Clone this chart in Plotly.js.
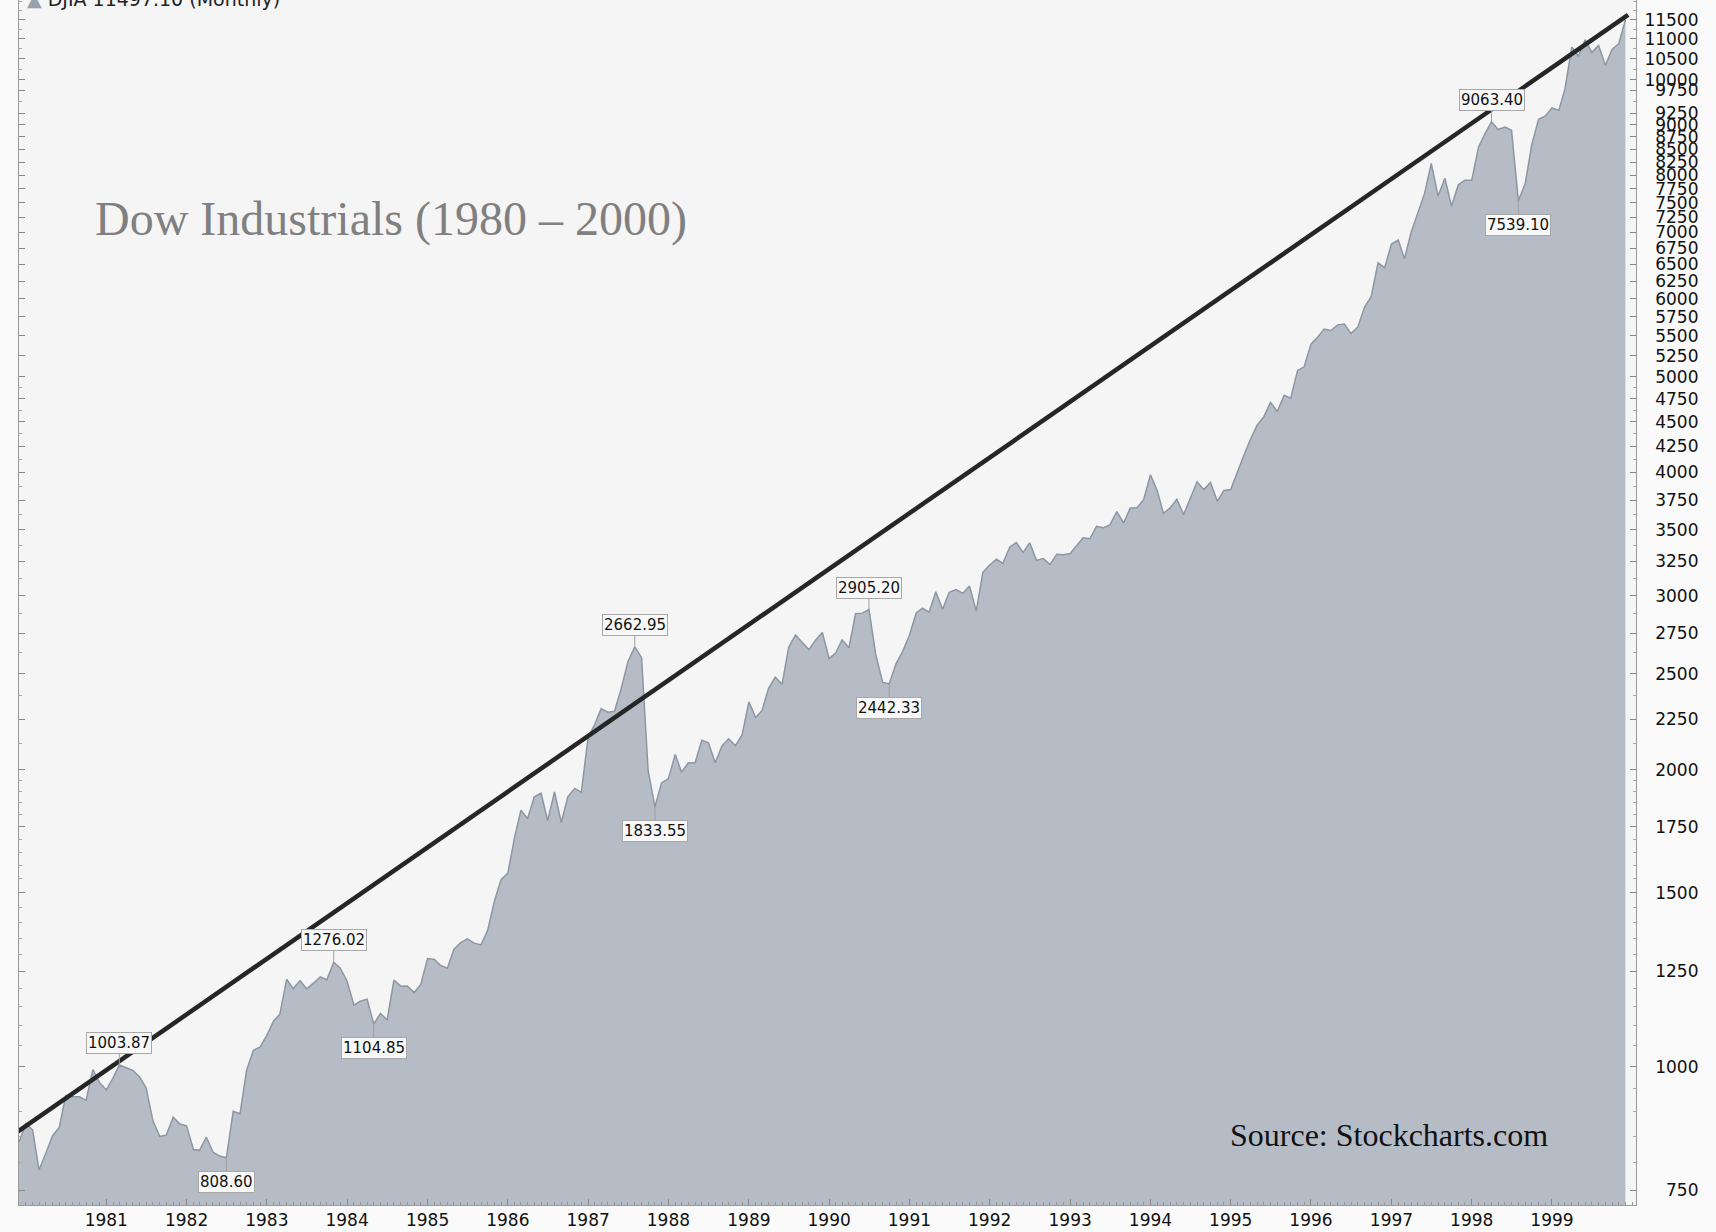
<!DOCTYPE html>
<html>
<head>
<meta charset="utf-8">
<script src="https://cdn.plot.ly/plotly-3.0.1.min.js"></script>
<style>
  html, body { margin: 0; padding: 0; background: #fafafa; }
  #chart { width: 1716px; height: 1232px; }
</style>
</head>
<body>
<div id="chart"></div>
<script>
// ---- Data (DJIA monthly closes, Dec 1979 - Dec 1999) ----
const startYear = 1979, startMonth = 12;
const dowClose = [
  838.74,
  875.85, 863.14, 785.75, 817.06, 850.85, 867.92, 935.32, 932.59, 932.42, 924.49, 993.34, 963.99,
  947.27, 974.58, 1003.87, 997.75, 991.75, 976.88, 952.34, 881.47, 849.98, 852.55, 888.98, 875.00,
  871.10, 824.39, 822.77, 848.36, 819.54, 811.93, 808.60, 901.31, 896.25, 991.72, 1039.28, 1046.54,
  1075.70, 1112.62, 1130.03, 1226.20, 1199.98, 1221.96, 1199.22, 1215.16, 1233.13, 1225.20, 1276.02, 1258.64,
  1220.58, 1154.63, 1164.89, 1170.75, 1104.85, 1132.40, 1115.28, 1224.38, 1206.71, 1207.38, 1188.94, 1211.57,
  1286.77, 1284.01, 1266.78, 1258.06, 1315.41, 1335.46, 1347.45, 1334.01, 1328.63, 1374.31, 1472.13, 1546.67,
  1570.99, 1709.06, 1818.61, 1783.98, 1876.71, 1892.72, 1775.31, 1898.34, 1767.58, 1877.81, 1914.23, 1895.95,
  2158.04, 2223.99, 2304.69, 2286.36, 2291.57, 2418.53, 2572.07, 2662.95, 2596.28, 1993.53, 1833.55, 1938.83,
  1958.22, 2071.62, 1988.06, 2032.33, 2031.12, 2141.71, 2128.73, 2031.65, 2112.91, 2148.65, 2114.51, 2168.57,
  2342.32, 2258.39, 2293.62, 2418.80, 2480.15, 2440.06, 2660.66, 2737.27, 2692.82, 2645.08, 2706.27, 2753.20,
  2590.54, 2627.25, 2707.21, 2656.76, 2876.66, 2880.69, 2905.20, 2614.36, 2452.48, 2442.33, 2559.65, 2633.66,
  2736.39, 2882.18, 2913.86, 2887.87, 3027.50, 2906.75, 3024.82, 3043.60, 3016.77, 3069.10, 2894.68, 3168.83,
  3223.39, 3267.67, 3235.47, 3359.12, 3396.88, 3318.52, 3393.78, 3257.35, 3271.66, 3226.28, 3305.16, 3301.11,
  3310.03, 3370.81, 3435.11, 3427.55, 3527.43, 3516.08, 3539.47, 3651.25, 3555.12, 3680.59, 3683.95, 3754.09,
  3978.36, 3832.02, 3635.96, 3681.69, 3758.37, 3624.96, 3764.50, 3913.42, 3843.19, 3908.12, 3739.23, 3834.44,
  3843.86, 4011.05, 4157.69, 4321.27, 4465.14, 4556.10, 4708.47, 4610.56, 4789.08, 4755.48, 5074.49, 5117.12,
  5395.30, 5485.62, 5587.14, 5569.08, 5643.18, 5654.63, 5528.91, 5616.21, 5882.17, 6029.38, 6521.70, 6448.27,
  6813.09, 6877.74, 6583.48, 7008.99, 7331.04, 7672.79, 8222.61, 7622.42, 7945.26, 7442.08, 7823.13, 7908.25,
  7906.50, 8545.72, 8799.81, 9063.40, 8899.95, 8952.02, 8883.29, 7539.10, 7842.62, 8592.10, 9116.55, 9181.43,
  9358.83, 9306.58, 9786.16, 10789.04, 10559.74, 10970.80, 10655.15, 10829.28, 10336.95, 10729.94, 10877.81, 11497.12
];

const yearTickLabels = ['1981','1982','1983','1984','1985','1986','1987','1988','1989','1990',
                        '1991','1992','1993','1994','1995','1996','1997','1998','1999'];
const priceTickValues = [11500, 11000, 10500, 10000, 9750, 9250, 9000, 8750, 8500, 8250, 8000,
  7750, 7500, 7250, 7000, 6750, 6500, 6250, 6000, 5750, 5500, 5250, 5000, 4750, 4500, 4250,
  4000, 3750, 3500, 3250, 3000, 2750, 2500, 2250, 2000, 1750, 1500, 1250, 1000, 750];

const calloutDates  = ['1981-03', '1982-07', '1983-11', '1984-05', '1987-08', '1987-11', '1990-07', '1990-10', '1998-04', '1998-08'];
const calloutLabels = ['1003.87', '808.60', '1276.02', '1104.85', '2662.95', '1833.55', '2905.20', '2442.33', '9063.40', '7539.10'];

const trendDates  = ['1979-10-21', '1999-12-13'];
const trendValues = [849, 11630];

const chartTitle = 'Dow Industrials (1980 \u2013 2000)';
const sourceText = 'Source: Stockcharts.com';
const legendText = 'DJIA 11497.10 (Monthly)';

// ---- Build ----
function pad(n) { return (n < 10 ? '0' : '') + n; }
const monthDates = dowClose.map((_, i) => {
  const m0 = (startMonth - 1) + i;
  const y = startYear + Math.floor(m0 / 12);
  const m = (m0 % 12) + 1;
  return y + '-' + pad(m) + '-01';
});

const yearTickVals = yearTickLabels.map(y => y + '-01-01');
const maxLen = Math.max(...priceTickValues.map(v => String(v).length));
const priceTickText = priceTickValues.map(v => '\u2007'.repeat(maxLen - String(v).length) + v);

// minor ticks on the price axis
const minorPrice = [];
for (let v = 750; v <= 12000; v += (v < 2000 ? 50 : (v < 5000 ? 125 : 250))) minorPrice.push(v);

const labelFont = { family: 'DejaVu Sans, Verdana, sans-serif', size: 15, color: '#111' };

const annotations = calloutDates.map((d, k) => {
  const iso = d + '-01';
  const idx = monthDates.indexOf(iso);
  const v = dowClose[idx];
  const isPeak = v >= dowClose[idx - 1] && v >= dowClose[idx + 1];
  return {
    x: iso, y: Math.log10(v), xref: 'x', yref: 'y',
    text: calloutLabels[k],
    showarrow: true, arrowhead: 0, arrowwidth: 1, arrowcolor: '#a0a0a0',
    ax: 0, ay: isPeak ? -22 : 24, standoff: 0,
    bgcolor: '#f8f8f8', bordercolor: '#a8a8a8', borderwidth: 1, borderpad: 1,
    font: labelFont
  };
});

annotations.push({
  xref: 'paper', yref: 'paper', x: 0.046, y: 0.8185, xanchor: 'left', yanchor: 'middle',
  text: chartTitle, showarrow: false,
  font: { family: 'Liberation Serif, Times New Roman, serif', size: 48, color: '#808080' }
});
annotations.push({
  xref: 'paper', yref: 'paper', x: 0.9468, y: 0.0581, xanchor: 'right', yanchor: 'middle',
  text: sourceText, showarrow: false,
  font: { family: 'Liberation Serif, Times New Roman, serif', size: 32, color: '#111' }
});
annotations.push({
  xref: 'paper', yref: 'paper', x: 0.0037, y: 1, xanchor: 'left', yanchor: 'middle', yshift: 1,
  text: '<span style="color:#98a2ae">\u25B2</span> ' + legendText, showarrow: false,
  font: { family: 'DejaVu Sans, Verdana, sans-serif', size: 19, color: '#222' }
});

const traces = [
  {
    x: monthDates, y: dowClose, type: 'scatter', mode: 'lines',
    fill: 'tozeroy', fillcolor: '#b5bcc6',
    line: { color: '#8c97a6', width: 1.5 },
    hoverinfo: 'x+y'
  },
  {
    x: trendDates, y: trendValues, type: 'scatter', mode: 'lines',
    line: { color: '#262626', width: 4.5 },
    cliponaxis: false, hoverinfo: 'skip'
  }
];

const layout = {
  width: 1716, height: 1232,
  margin: { l: 19, r: 80, t: 0, b: 27 },
  paper_bgcolor: '#fafafa',
  plot_bgcolor: '#f5f5f5',
  showlegend: false,
  xaxis: {
    type: 'date',
    range: ['1979-12-01', '2000-01-18'],
    tickmode: 'array', tickvals: yearTickVals, ticktext: yearTickLabels,
    ticks: 'inside', ticklen: 6, tickcolor: '#888',
    minor: { dtick: 'M1', tick0: '1980-01-01', ticks: 'inside', ticklen: 3, tickcolor: '#999', showgrid: false },
    showgrid: false, zeroline: false,
    showline: true, linecolor: '#9a9a9a', linewidth: 1,
    tickfont: { family: 'DejaVu Sans, Verdana, sans-serif', size: 17, color: '#111' }
  },
  yaxis: {
    type: 'log', side: 'right',
    range: [Math.log10(724.3), Math.log10(12040)],
    tickmode: 'array', tickvals: priceTickValues, ticktext: priceTickText,
    ticks: 'inside', ticklen: 6, tickcolor: '#888',
    minor: { tickmode: 'array', tickvals: minorPrice, ticks: 'inside', ticklen: 3, tickcolor: '#aaa', showgrid: false },
    showgrid: false, zeroline: false,
    showline: true, linecolor: '#9a9a9a', linewidth: 1, mirror: 'ticks',
    ticklabelstandoff: 4,
    tickfont: { family: 'DejaVu Sans, Verdana, sans-serif', size: 17, color: '#111' }
  },
  annotations: annotations
};

Plotly.newPlot('chart', traces, layout, { displayModeBar: false, staticPlot: true });
</script>
</body>
</html>
